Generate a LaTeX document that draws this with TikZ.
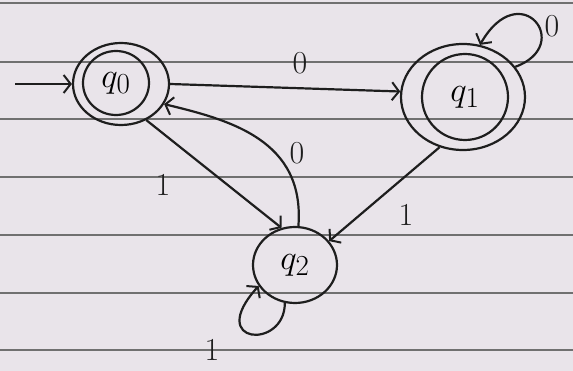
\documentclass[tikz,border=0pt]{standalone}
\usetikzlibrary{arrows.meta,shapes.geometric}
\definecolor{paper}{HTML}{E9E4EA}
\definecolor{rule}{HTML}{707070}
\definecolor{ink}{HTML}{1E1E1E}
\tikzset{
  stateo/.style={ellipse,draw=ink,line width=2.2pt,inner sep=0pt},
  statei/.style={ellipse,draw=ink,line width=2.2pt,inner sep=0pt,font=\fontsize{24.88}{26}\selectfont},
  edge/.style={draw=ink,line width=2.2pt,-{Straight Barb[length=7pt,width=18pt,line width=2pt]}},
  lbl/.style={font=\fontsize{32}{34}\selectfont,text=ink},
  ruling/.style={draw=rule,line width=1.1pt}
}
\newcommand{\qlab}[1]{\scalebox{1.4}{$q_{#1}$}}
\begin{document}
\begin{tikzpicture}[x=1pt,y=-1pt]
\fill[paper] (0,0) rectangle (573,371);
\useasboundingbox (0,0) rectangle (573,371);
\foreach \yy in {3,62,119,177,235,293,350} {\draw[ruling] (0,\yy) -- (573,\yy);}
% states
\node[stateo,minimum width=96pt,minimum height=82pt] (q0) at (121,84) {};
\node[statei,minimum width=66pt,minimum height=64pt] (q0in) at (116,83) {\qlab{0}};
\node[stateo,minimum width=124pt,minimum height=106pt] (q1) at (463,97) {};
\node[statei,minimum width=86pt,minimum height=86pt] (q1in) at (465,97) {\qlab{1}};
\node[statei,minimum width=84pt,minimum height=76pt] (q2) at (295,265) {\qlab{2}};
\coordinate (start) at (15,84);
% edges
\draw[edge] (start) -- (q0.west);
\draw[edge] (q0.east) -- (q1.175);
\draw[edge] (q0.-55) -- (q2.110);
\draw[edge] (q1.-115) -- (q2.35);
\draw[edge] (q2.85) .. controls (305,140) and (230,120) .. (q0.-25);
\draw[edge] (q1.30) .. controls (575,45) and (520,-25) .. (q1.72);
\draw[edge] (q2.-105) .. controls (285,350) and (205,345) .. (q2.-150);
% labels
\node[lbl] (l01) at (300,63) {0};
\node[lbl] (l20) at (297,153) {0};
\node[lbl] (l02) at (163,185) {1};
\node[lbl] (l12) at (406,215) {1};
\node[lbl] (l22) at (212,350) {1};
\node[lbl] (l11) at (552,26) {0};
\end{tikzpicture}
\end{document}
